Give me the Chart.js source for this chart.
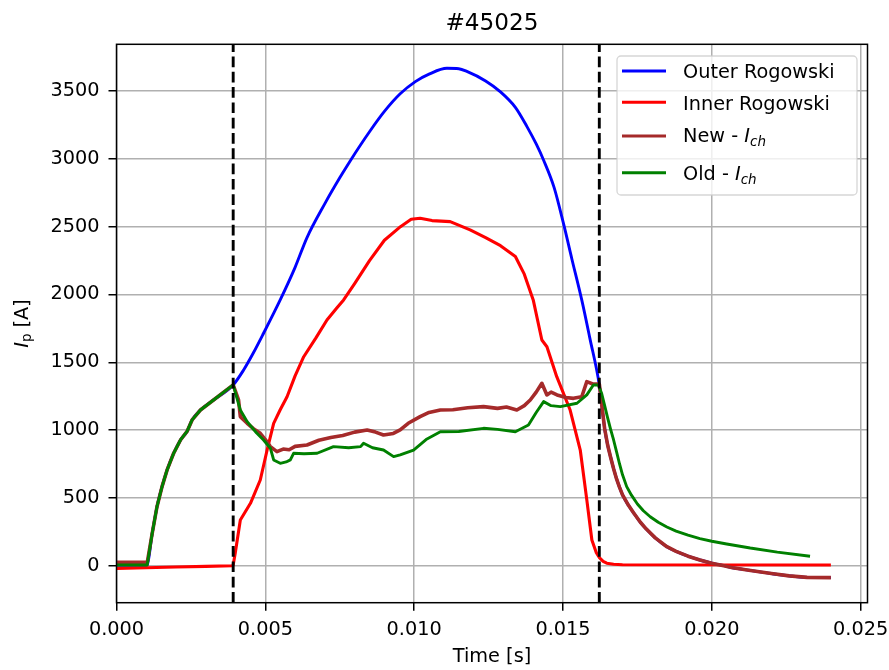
<!DOCTYPE html>
<html><head><meta charset="utf-8">
<script src="https://cdn.jsdelivr.net/npm/chart.js@4.4.0/dist/chart.umd.min.js"></script>
<style>html,body{margin:0;padding:0;background:#fff;}canvas{display:block;}</style>
</head><body>
<canvas id="c" width="889" height="670"></canvas>
<script>
// ---------- data ----------
const chartTitle = "#45025";
const xAxisLabel = "Time [s]";
const yAxisLabel = ["I", "p", " [A]"]; // italic I, subscript p, rest
const xTicks = [0, 0.005, 0.010, 0.015, 0.020, 0.025];
const yTicks = [0, 500, 1000, 1500, 2000, 2500, 3000, 3500];
const xMin = 0, xMax = 0.02523;
const yMin = -273, yMax = 3845;

const seriesNames = ["Outer Rogowski", "Inner Rogowski", "New - I_ch", "Old - I_ch"];
const seriesColors = ["#0000ff", "#ff0000", "#a52a2a", "#008000"];

const outerT = [0, 0.0010, 0.00103, 0.0012, 0.00136, 0.00153, 0.0017, 0.00192, 0.00215, 0.00237, 0.00254, 0.00282, 0.00326, 0.00392,
  0.00427, 0.0046, 0.00494, 0.0055, 0.0060, 0.0064, 0.0070, 0.0075, 0.00785, 0.0085, 0.0090, 0.00953, 0.01004, 0.0105, 0.0111,
  0.0115, 0.01177, 0.0124, 0.01289, 0.0134, 0.01379, 0.0141, 0.01435, 0.0147, 0.01502, 0.0153, 0.01563, 0.0159, 0.01622,
  0.0163, 0.0164, 0.0165, 0.0166, 0.0167, 0.0168, 0.0169, 0.0170, 0.0172, 0.01737, 0.0176, 0.0178, 0.0181, 0.01849,
  0.0188, 0.0192, 0.0196, 0.0200, 0.0204, 0.0207, 0.0213, 0.0220, 0.0226, 0.0232, 0.0240];
const outerI = [3, 3, 5, 239, 435, 583, 706, 829, 927, 990, 1075, 1148, 1222, 1333,
  1443, 1570, 1714, 1960, 2200, 2420, 2670, 2860, 2985, 3200, 3350, 3480, 3570, 3625, 3668,
  3665, 3645, 3575, 3496, 3380, 3238, 3110, 2990, 2790, 2520, 2260, 1960, 1680, 1333,
  1190, 1010, 890, 800, 715, 640, 578, 522, 445, 390, 320, 270, 205, 140,
  105, 70, 42, 18, 0, -15, -35, -58, -75, -86, -88];

const innerT = [0, 0.001, 0.002, 0.003, 0.00389, 0.00392, 0.00399, 0.00416, 0.0045, 0.00483, 0.00506, 0.00528, 0.0055, 0.00573,
  0.0060, 0.00629, 0.0067, 0.00707, 0.0074, 0.00763, 0.0080, 0.0085, 0.0090, 0.00954, 0.0099, 0.0102, 0.0106, 0.01121,
  0.01188, 0.0124, 0.0129, 0.0134, 0.0137, 0.0140, 0.01429, 0.01446, 0.01479, 0.01524, 0.01558, 0.0158, 0.01597,
  0.01612, 0.01622, 0.01635, 0.01647, 0.0167, 0.0170, 0.0240];
const innerI = [-20, -15, -10, -5, 0, 5, 93, 337, 460, 632, 853, 1050, 1150, 1246,
  1400, 1541, 1680, 1812, 1900, 1960, 2080, 2250, 2400, 2500, 2555, 2562, 2545, 2537,
  2476, 2420, 2360, 2280, 2150, 1960, 1664, 1615, 1394, 1148, 853, 485, 189,
  95, 60, 32, 18, 10, 7, 5];

const newT = [0, 0.0010, 0.00103, 0.0012, 0.00136, 0.00153, 0.0017, 0.00192, 0.00215, 0.00237, 0.00254, 0.00282, 0.00326, 0.00392,
  0.0041, 0.00416, 0.00439, 0.0046, 0.00483, 0.0050, 0.00517, 0.00539, 0.0056, 0.0058, 0.0060, 0.0064, 0.0068, 0.0072, 0.0076,
  0.0080, 0.00842, 0.0087, 0.00897, 0.0093, 0.00953, 0.0098, 0.0102, 0.0105, 0.01088, 0.0113, 0.0118, 0.01233, 0.0128,
  0.0131, 0.01345, 0.0137, 0.0139, 0.0141, 0.01429, 0.01446, 0.0146, 0.0148, 0.0151, 0.01535, 0.01563, 0.0158, 0.0160, 0.01622,
  0.0163, 0.0164, 0.0165, 0.0166, 0.0167, 0.0168, 0.0169, 0.0170, 0.0172, 0.01737, 0.0176, 0.0178, 0.0181, 0.01849,
  0.0188, 0.0192, 0.0196, 0.0200, 0.0204, 0.0207, 0.0213, 0.0220, 0.0226, 0.0232, 0.0240];
const newI = [25, 25, 20, 239, 435, 583, 706, 829, 927, 990, 1075, 1148, 1222, 1333,
  1222, 1099, 1050, 1010, 976, 930, 878, 841, 860, 855, 880, 890, 925, 945, 960,
  985, 1001, 985, 964, 975, 1001, 1050, 1099, 1130, 1148, 1150, 1165, 1173, 1160,
  1170, 1148, 1180, 1222, 1280, 1345, 1259, 1280, 1259, 1240, 1234, 1246, 1357, 1340, 1340,
  1190, 1010, 890, 800, 715, 640, 578, 522, 445, 390, 320, 270, 205, 140,
  105, 70, 42, 18, 0, -15, -35, -58, -75, -86, -88];

const oldT = [0, 0.0010, 0.00103, 0.0012, 0.00136, 0.00153, 0.0017, 0.00192, 0.00215, 0.00237, 0.00254, 0.00282, 0.00326, 0.00392,
  0.00416, 0.00439, 0.0047, 0.00494, 0.00517, 0.00528, 0.0055, 0.0057, 0.00584, 0.00595, 0.0063, 0.00674, 0.00729, 0.0078,
  0.0082, 0.0083, 0.0086, 0.00897, 0.00931, 0.00953, 0.00998, 0.0104, 0.01088, 0.0115, 0.01233, 0.0128, 0.0134, 0.01384,
  0.0141, 0.01435, 0.0146, 0.01491, 0.01547, 0.0158, 0.01602, 0.01619,
  0.0163, 0.0164, 0.0165, 0.0166, 0.0167, 0.0168, 0.0169, 0.0170, 0.01714, 0.0173, 0.0175, 0.0177, 0.01793, 0.0182,
  0.01849, 0.0188, 0.0192, 0.0196, 0.0200, 0.0205, 0.02129, 0.0222, 0.0233];
const oldI = [5, 5, 5, 239, 435, 583, 706, 829, 927, 990, 1075, 1148, 1222, 1333,
  1148, 1062, 980, 927, 866, 780, 755, 765, 780, 829, 825, 829, 878, 870,
  878, 903, 870, 853, 804, 817, 853, 930, 988, 990, 1013, 1005, 988, 1037,
  1130, 1210, 1180, 1173, 1198, 1260, 1333, 1333,
  1270, 1180, 1090, 1005, 927, 840, 750, 670, 583, 520, 455, 405, 361, 320,
  285, 255, 225, 200, 180, 160, 130, 100, 70];

const markerTimes = [0.00392, 0.01622];

// ---------- chart ----------
const FONT = '"DejaVu Sans"';
const FS = 19.3;

function pts(t, v) { return t.map((x, i) => ({ x: x, y: v[i] })); }

const datasets = [
  { label: seriesNames[0], data: pts(outerT, outerI), borderColor: seriesColors[0], order: 5, cubicInterpolationMode: 'monotone', borderWidth: 2.9 },
  { label: seriesNames[1], data: pts(innerT, innerI), borderColor: seriesColors[1], order: 4, borderWidth: 3.1 },
  { label: seriesNames[2], data: pts(newT, newI), borderColor: seriesColors[2], order: 3, borderWidth: 3.6 },
  { label: seriesNames[3], data: pts(oldT, oldI), borderColor: seriesColors[3], order: 2, borderWidth: 2.9 }
];
markerTimes.forEach(t => datasets.push({
  label: 'marker', data: [{ x: t, y: yMin }, { x: t, y: yMax }],
  borderColor: '#000', borderDash: [10.7, 4.6], order: 1, borderWidth: 2.9
}));
datasets.forEach(d => { d.pointRadius = 0; d.fill = false; });

function richText(ctx, x, y, parts, size) {
  parts.forEach(p => {
    let sz = size, dy = 0, st = '';
    if (p.style === 'italic') st = 'italic ';
    if (p.style === 'sub' || p.style === 'subit') { sz = size * 0.7; dy = size * 0.2; }
    if (p.style === 'subit') st = 'italic ';
    ctx.font = st + sz + 'px ' + FONT;
    ctx.fillText(p.t, x, y + dy);
    x += ctx.measureText(p.t).width;
  });
  return x;
}
function richWidth(ctx, parts, size) {
  let w = 0;
  parts.forEach(p => {
    let sz = size, st = '';
    if (p.style === 'italic' || p.style === 'subit') st = 'italic ';
    if (p.style === 'sub' || p.style === 'subit') sz = size * 0.7;
    ctx.font = st + sz + 'px ' + FONT;
    w += ctx.measureText(p.t).width;
  });
  return w;
}
function labelParts(name) {
  const m = name.match(/^(.*?)([A-Za-z])_(\w+)$/);
  if (!m) return [{ t: name, style: 'normal' }];
  return [{ t: m[1], style: 'normal' }, { t: m[2], style: 'italic' }, { t: m[3], style: 'subit' }];
}

const deco = {
  id: 'deco',
  afterDatasetsDraw(chart) {
    const ctx = chart.ctx, a = chart.chartArea;
    ctx.save();
    ctx.strokeStyle = '#000'; ctx.lineWidth = 1.5;
    ctx.strokeRect(a.left, a.top, a.right - a.left, a.bottom - a.top);
    ctx.restore();
  },
  afterDraw(chart) {
    const ctx = chart.ctx, a = chart.chartArea;
    const cx = (a.left + a.right) / 2;
    ctx.save();
    ctx.fillStyle = '#000';
    ctx.textBaseline = 'alphabetic';
    ctx.textAlign = 'center';
    ctx.font = (FS * 1.2) + 'px ' + FONT;
    ctx.fillText(chartTitle, cx, 29.5);
    ctx.font = FS + 'px ' + FONT;
    ctx.fillText(xAxisLabel, cx, 662);
    ctx.textAlign = 'left';
    const yparts = [{ t: yAxisLabel[0], style: 'italic' }, { t: yAxisLabel[1], style: 'sub' }, { t: yAxisLabel[2], style: 'normal' }];
    const yw = richWidth(ctx, yparts, FS);
    ctx.translate(27.5, (a.top + a.bottom) / 2);
    ctx.rotate(-Math.PI / 2);
    richText(ctx, -yw / 2, 0, yparts, FS);
    ctx.restore();

    // legend
    ctx.save();
    const lx = 617, ly = 56, lw = 240, lh = 139, r = 4;
    ctx.beginPath();
    ctx.moveTo(lx + r, ly); ctx.lineTo(lx + lw - r, ly); ctx.arcTo(lx + lw, ly, lx + lw, ly + r, r);
    ctx.lineTo(lx + lw, ly + lh - r); ctx.arcTo(lx + lw, ly + lh, lx + lw - r, ly + lh, r);
    ctx.lineTo(lx + r, ly + lh); ctx.arcTo(lx, ly + lh, lx, ly + lh - r, r);
    ctx.lineTo(lx, ly + r); ctx.arcTo(lx, ly, lx + r, ly, r); ctx.closePath();
    ctx.fillStyle = 'rgba(255,255,255,0.8)'; ctx.fill();
    ctx.strokeStyle = 'rgba(204,204,204,0.8)'; ctx.lineWidth = 1.3; ctx.stroke();
    const rowsY = [71, 102.3, 136, 172.7];
    const baseY = [77.5, 109.8, 141.8, 179.8];
    seriesNames.forEach((n, i) => {
      ctx.strokeStyle = seriesColors[i]; ctx.lineWidth = 2.9; ctx.lineCap = 'butt';
      ctx.beginPath(); ctx.moveTo(622, rowsY[i]); ctx.lineTo(666, rowsY[i]); ctx.stroke();
      ctx.fillStyle = '#000'; ctx.textAlign = 'left'; ctx.textBaseline = 'alphabetic';
      richText(ctx, 683, baseY[i], labelParts(n), FS);
    });
    ctx.restore();
  }
};

new Chart(document.getElementById('c').getContext('2d'), {
  type: 'line',
  data: { datasets: datasets },
  options: {
    responsive: false, animation: false, devicePixelRatio: 1,
    layout: { padding: { left: 0, right: 21.5, top: 44.3, bottom: 0 } },
    plugins: { legend: { display: false }, tooltip: { enabled: false }, title: { display: false } },
    elements: { line: { tension: 0, borderJoinStyle: 'round' }, point: { radius: 0 } },
    scales: {
      x: {
        type: 'linear', min: xMin, max: xMax,
        afterBuildTicks: s => { s.ticks = xTicks.map(v => ({ value: v })); },
        afterFit: s => { s.height = 670 - 602.7; s.paddingLeft = 0; s.paddingRight = 0; s.paddingTop = 0; s.paddingBottom = 0; },
        ticks: { color: '#000', font: { family: 'DejaVu Sans', size: FS }, padding: 8, maxRotation: 0, autoSkip: false,
          callback: v => Number(v).toFixed(3) },
        grid: { color: '#b0b0b0', lineWidth: 1.5, tickColor: '#000', tickWidth: 1.5, tickLength: 8, drawTicks: true },
        border: { display: false }
      },
      y: {
        type: 'linear', min: yMin, max: yMax,
        afterBuildTicks: s => { s.ticks = yTicks.map(v => ({ value: v })); },
        afterFit: s => { s.width = 116.5; s.paddingLeft = 0; s.paddingRight = 0; s.paddingTop = 0; s.paddingBottom = 0; },
        ticks: { color: '#000', font: { family: 'DejaVu Sans', size: FS }, padding: 9, autoSkip: false,
          callback: v => String(v) },
        grid: { color: '#b0b0b0', lineWidth: 1.5, tickColor: '#000', tickWidth: 1.5, tickLength: 8, drawTicks: true },
        border: { display: false }
      }
    }
  },
  plugins: [deco]
});
</script>
</body></html>
